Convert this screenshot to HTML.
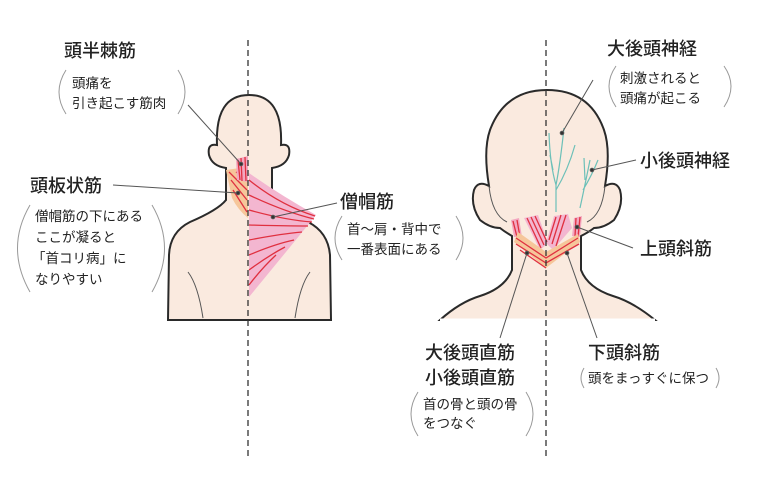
<!DOCTYPE html>
<html><head><meta charset="utf-8"><style>
html,body{margin:0;padding:0;background:#fff;}
svg{display:block}
text{font-family:"Liberation Sans","Noto Sans CJK JP",sans-serif;fill:#222}
.t{font-size:18px;font-weight:500}
.s{font-size:13.5px}
.arc{fill:none;stroke:#999;stroke-width:1}
.ld{stroke:#555;stroke-width:1;fill:none}
.m{stroke:#e03040;stroke-width:1.3;fill:none}
</style></head><body>
<svg width="760" height="481" viewBox="0 0 760 481" xmlns="http://www.w3.org/2000/svg">
<!-- LEFT FIGURE -->
<path d="M168,320 L169,255 Q170,232 190,222 Q218,210 226,200 L226,168 Q212,166 209,155 Q207,143 217,145 Q215,95 249,95 Q283,95 281,145 Q291,143 289,155 Q286,166 272,168 L272,200 Q280,210 308,222 Q328,232 330,255 L331,320 Z" fill="#faeadf" stroke="#2a2a2a" stroke-width="2"/>
<path d="M188,272 Q198,285 203,318 M310,272 Q300,285 295,318" class="ld" stroke="#333"/>
<!-- splenius -->
<path d="M226,170 L240,168 L248,175 L248,218 Q238,210 232,198 Z" fill="#f6c69a"/>
<path d="M229,172 L247,190 M231,180 L247,200 M233,190 L247,212 M236,172 L247,180" class="m"/>
<!-- semispinalis -->
<path d="M236,159 L248,156 L248,182 L237,180 Z" fill="#f3a7c0"/>
<path d="M238,160 L240,180 M241,158 L242,181 M245,157 L246,181" class="m"/>
<!-- trapezius -->
<path d="M249,173 Q280,195 316,215 Q300,235 249,297 Z" fill="#f3b6d0"/>
<path d="M249,180 Q280,205 315,216 M249,195 Q285,212 314,219 M249,210 Q285,220 312,222 M249,225 Q285,226 308,226 M249,240 Q280,234 302,232 M249,255 Q275,244 294,240 M249,270 Q268,256 285,247 M249,285 Q262,268 276,255" class="m"/>
<line x1="248" y1="40" x2="248" y2="460" stroke="#333" stroke-width="1.3" stroke-dasharray="6,4"/>
<!-- RIGHT FIGURE -->
<path d="M440,320 Q460,302 480,296 Q505,288 512,270 L512,236 Q505,232 500,228 Q490,228 480,220 Q470,205 474,190 Q478,180 489,186 Q483,150 490,130 Q505,90 547,90 Q590,90 604,130 Q611,150 605,186 Q616,180 620,190 Q624,205 614,220 Q604,228 594,228 Q589,232 581,236 L581,270 Q588,288 613,296 Q633,302 655,320 Z" fill="#faeadf" stroke="#2a2a2a" stroke-width="2"/>
<path d="M440,320 L655,320" stroke="#fff" stroke-width="3"/>
<path d="M489,186 Q492,215 507,222 M605,186 Q602,215 587,222" class="ld" stroke="#2a2a2a" stroke-width="1.5"/>
<!-- nerves -->
<g stroke="#6cc0b8" stroke-width="1.2" fill="none">
<path d="M556,212 L556,185 Q550,165 549,133 M556,185 Q560,165 564,128 M556,190 Q568,170 575,145 M553,170 L550,155"/>
<path d="M580,208 Q585,185 590,160 M583,190 Q592,175 598,160 M585,180 L584,158"/>
</g>
<!-- muscles -->
<path d="M511,220 L519,218 L522,237 L514,237 Z" fill="#f3a7c0"/>
<path d="M524,218 L538,215 L548,243 L540,250 Z" fill="#f3b6d0"/>
<path d="M546,243 L554,216 L568,214 L572,228 L553,250 Z" fill="#f3b6d0"/>
<path d="M574,218 L582,216 L580,237 L572,236 Z" fill="#f3a7c0"/>
<path d="M513,221 L517,237 M517,220 L520,237 M527,218 L541,248 M531,217 L544,245 M535,216 L547,242 M549,240 L556,217 M552,244 L561,215 M556,246 L566,215 M576,218 L575,236 M580,217 L578,237" class="m"/>
<path d="M514,242 L546,268 L580,242 L578,234 L546,252 L518,232 Z" fill="#f6c69a"/>
<path d="M516,238 L546,258 L578,238 M516,244 L546,263 L579,244 M520,250 L546,268" class="m"/>
<line x1="546" y1="40" x2="546" y2="460" stroke="#333" stroke-width="1.3" stroke-dasharray="6,4"/>
<!-- LEADERS -->
<g class="ld">
<path d="M188,105 L241,164"/><circle cx="241" cy="164" r="1.8" fill="#333"/>
<path d="M113,185 L238,193"/><circle cx="238" cy="193" r="1.8" fill="#333"/>
<path d="M337,203 L273,217"/><circle cx="273" cy="217" r="1.8" fill="#333"/>
<path d="M593,80 L562,133"/><circle cx="562" cy="133" r="1.8" fill="#333"/>
<path d="M636,160 L592,170"/><circle cx="592" cy="170" r="1.8" fill="#333"/>
<path d="M633,248 L577,227"/><circle cx="577" cy="227" r="1.8" fill="#333"/>
<path d="M500,338 L527,253"/><circle cx="527" cy="253" r="1.8" fill="#333"/>
<path d="M597,338 L567,253"/><circle cx="567" cy="253" r="1.8" fill="#333"/>
</g>
<!-- LABELS -->
<text class="t" x="64" y="57">頭半棘筋</text>
<path class="arc" d="M66,70 Q52,92 66,114 M178,70 Q192,92 178,114"/>
<text class="s" x="72" y="88">頭痛を</text>
<text class="s" x="72" y="108">引き起こす筋肉</text>

<text class="t" x="30" y="192">頭板状筋</text>
<path class="arc" d="M30,205 Q5,248 30,292 M152,205 Q177,248 152,292"/>
<text class="s" x="35" y="221">僧帽筋の下にある</text>
<text class="s" x="35" y="242">ここが凝ると</text>
<text class="s" x="32" y="263">「首コリ病」に</text>
<text class="s" x="35" y="284">なりやすい</text>

<text class="t" x="340" y="208">僧帽筋</text>
<path class="arc" d="M342,216 Q328,238 342,260 M456,216 Q470,238 456,260"/>
<text class="s" x="347" y="234">首〜肩・背中で</text>
<text class="s" x="347" y="254">一番表面にある</text>

<text class="t" x="607" y="55">大後頭神経</text>
<path class="arc" d="M616,66 Q602,86 616,107 M724,66 Q738,86 724,107"/>
<text class="s" x="620" y="83">刺激されると</text>
<text class="s" x="620" y="103">頭痛が起こる</text>

<text class="t" x="640" y="167">小後頭神経</text>
<text class="t" x="640" y="255">上頭斜筋</text>

<text class="t" x="425" y="359">大後頭直筋</text>
<text class="t" x="425" y="384">小後頭直筋</text>
<path class="arc" d="M418,392 Q404,414 418,436 M526,392 Q540,414 526,436"/>
<text class="s" x="423" y="409">首の骨と頭の骨</text>
<text class="s" x="423" y="428">をつなぐ</text>

<text class="t" x="588" y="359">下頭斜筋</text>
<path class="arc" d="M584,368 Q578,378 584,388 M716,368 Q722,378 716,388"/>
<text class="s" x="588" y="383">頭をまっすぐに保つ</text>
</svg>
</body></html>
